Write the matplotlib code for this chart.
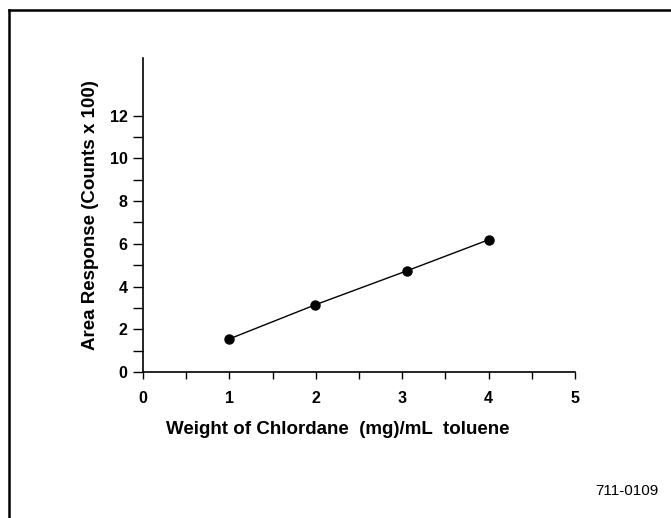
import matplotlib
matplotlib.use("Agg")
import matplotlib.pyplot as plt
from matplotlib.lines import Line2D
from matplotlib.ticker import FixedLocator

plt.rcParams['font.family'] = ['Liberation Sans', 'DejaVu Sans']

weight = [1.0, 1.99, 3.05, 4.0]
response = [1.55, 3.14, 4.73, 6.19]
xticks = [0, 1, 2, 3, 4, 5]
yticks = [0, 2, 4, 6, 8, 10, 12]
xminor = [0.5, 1.5, 2.5, 3.5, 4.5]
yminor = [1, 3, 5, 7, 9, 11]

W, H = 671, 518
fig = plt.figure(figsize=(W/100, H/100), dpi=100)
ax = fig.add_axes([143/W, 1-372/H, (575-143)/W, (372-58)/H])

ax.plot(weight, response, color='black', lw=1.0, marker='o', ms=6.5,
        markerfacecolor='black', markeredgecolor='black')

ax.set_xlim(0, 5)
ax.set_ylim(0, 14.7)
ax.set_xticks(xticks)
ax.set_yticks(yticks)
ax.xaxis.set_minor_locator(FixedLocator(xminor))
ax.yaxis.set_minor_locator(FixedLocator(yminor))
for s in ['top', 'right']:
    ax.spines[s].set_visible(False)
for s in ['left', 'bottom']:
    ax.spines[s].set_linewidth(1.2)
ax.tick_params(axis='x', which='both', direction='out', length=5, width=1.0, pad=9,
               labelsize=11.5)
ax.tick_params(axis='y', which='both', direction='out', length=7, width=1.0, pad=4,
               labelsize=11.5)
for lab in ax.get_xticklabels() + ax.get_yticklabels():
    lab.set_fontweight('bold')

ax.set_xlabel('Weight of Chlordane  (mg)/mL  toluene', fontsize=13.5, fontweight='bold',
              va='center')
ax.xaxis.set_label_coords((338-143)/432, (372-430)/314)
ax.set_ylabel('Area Response (Counts x 100)', fontsize=13.5, fontweight='bold', labelpad=8)

fig.text(627/W, 1-491/H, '711-0109', fontsize=11, ha='center', va='center')

# frame
fig.add_artist(Line2D([8.5/W, 8.5/W], [0, 1-9.5/H], transform=fig.transFigure,
                      color='black', lw=1.8))
fig.add_artist(Line2D([8.5/W, 1], [1-9.5/H, 1-9.5/H], transform=fig.transFigure,
                      color='black', lw=1.8))

fig.savefig('out.png', dpi=100)
